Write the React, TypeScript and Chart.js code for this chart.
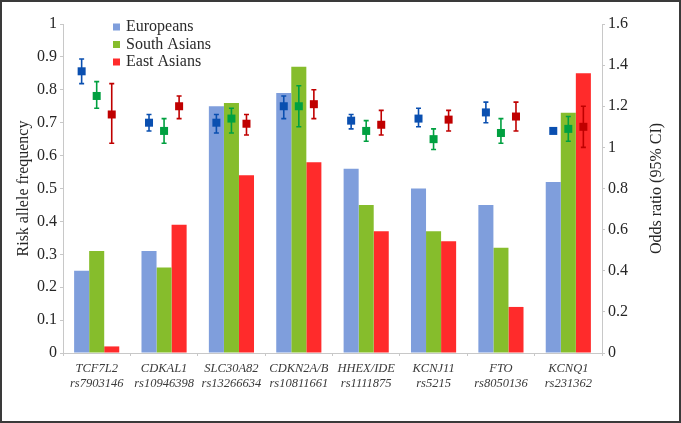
import React, { useEffect, useRef } from "react";
import { Chart, registerables } from "chart.js";

Chart.register(...registerables);

const FONT = "'Liberation Serif', 'Times New Roman', serif";

// Categories (gene / SNP)
const genes = ["TCF7L2", "CDKAL1", "SLC30A82", "CDKN2A/B", "HHEX/IDE", "KCNJ11", "FTO", "KCNQ1"];
const snps = ["rs7903146", "rs10946398", "rs13266634", "rs10811661", "rs1111875", "rs5215", "rs8050136", "rs231362"];

const seriesNames = ["Europeans", "South Asians", "East Asians"];
const leftTitle = "Risk allele frequency";
const rightTitle = "Odds ratio (95% CI)";

// Risk allele frequency (left axis)
const europeansFreq = [0.25, 0.31, 0.75, 0.79, 0.56, 0.5, 0.45, 0.52];
const southAsiansFreq = [0.31, 0.26, 0.76, 0.87, 0.45, 0.37, 0.32, 0.73];
const eastAsiansFreq = [0.02, 0.39, 0.54, 0.58, 0.37, 0.34, 0.14, 0.85];

// Odds ratios with 95% CI (right axis)
const europeansOR = [1.37, 1.12, 1.12, 1.2, 1.13, 1.14, 1.17, 1.08];
const europeansLo = [1.31, 1.08, 1.07, 1.14, 1.09, 1.1, 1.12, 1.07];
const europeansHi = [1.43, 1.16, 1.16, 1.25, 1.16, 1.19, 1.22, 1.09];

const southAsiansOR = [1.25, 1.08, 1.14, 1.2, 1.08, 1.04, 1.07, 1.09];
const southAsiansLo = [1.19, 1.02, 1.07, 1.1, 1.03, 0.99, 1.02, 1.03];
const southAsiansHi = [1.32, 1.14, 1.19, 1.3, 1.13, 1.09, 1.14, 1.15];

const eastAsiansOR = [1.16, 1.2, 1.115, 1.21, 1.11, 1.135, 1.15, 1.1];
const eastAsiansLo = [1.02, 1.14, 1.06, 1.14, 1.06, 1.08, 1.08, 1.0];
const eastAsiansHi = [1.31, 1.25, 1.16, 1.28, 1.18, 1.18, 1.22, 1.2];

const barColors = ["#7f9edc", "#86bd2c", "#ff2b2b"];
const pointColors = ["#0a4fb0", "#00a040", "#c00000"];

const fmt = (v: any) => `${+Number(v).toFixed(1)}`;

const errorBarPlugin = {
  id: "errorBars",
  afterDatasetsDraw(chart: any) {
    const ctx = chart.ctx;
    const y1 = chart.scales.y1;
    const groups = [
      [europeansOR, europeansLo, europeansHi],
      [southAsiansOR, southAsiansLo, southAsiansHi],
      [eastAsiansOR, eastAsiansLo, eastAsiansHi],
    ];
    groups.forEach(([mid, lo, hi], i) => {
      const meta = chart.getDatasetMeta(i);
      ctx.save();
      ctx.strokeStyle = pointColors[i];
      ctx.fillStyle = pointColors[i];
      ctx.lineWidth = 1.6;
      mid.forEach((v: number, j: number) => {
        const x = meta.data[j].x;
        const yTop = y1.getPixelForValue(hi[j]);
        const yBot = y1.getPixelForValue(lo[j]);
        const yMid = y1.getPixelForValue(v);
        ctx.beginPath();
        ctx.moveTo(x, yTop);
        ctx.lineTo(x, yBot);
        ctx.moveTo(x - 2.5, yTop);
        ctx.lineTo(x + 2.5, yTop);
        ctx.moveTo(x - 2.5, yBot);
        ctx.lineTo(x + 2.5, yBot);
        ctx.stroke();
        ctx.fillRect(x - 4, yMid - 4, 8, 8);
      });
      ctx.restore();
    });
  },
};

const legendPlugin = {
  id: "insideLegend",
  afterDraw(chart: any) {
    const { ctx, chartArea } = chart;
    ctx.save();
    ctx.font = `16px ${FONT}`;
    ctx.textBaseline = "middle";
    ctx.textAlign = "left";
    seriesNames.forEach((name, i) => {
      const cy = chartArea.top + 3 + i * 17.5;
      ctx.fillStyle = barColors[i];
      ctx.fillRect(chartArea.left + 50, cy - 3.5, 7, 7);
      ctx.fillStyle = "#2a2a2a";
      ctx.fillText(name, chartArea.left + 63, cy);
    });
    // right axis title, reading bottom-to-top
    const y1 = chart.scales.y1;
    ctx.translate(y1.right - 24, (chartArea.top + chartArea.bottom) / 2);
    ctx.rotate(-Math.PI / 2);
    ctx.textAlign = "center";
    ctx.fillStyle = "#262626";
    ctx.fillText(rightTitle, 0, 0);
    ctx.restore();
  },
};

export default function App() {
  const ref = useRef<HTMLCanvasElement | null>(null);

  useEffect(() => {
    document.body.style.margin = "0";
    if (!ref.current) return;
    const labels = genes.map((g, i) => [g, snps[i]]);
    const chart = new Chart(ref.current, {
      type: "bar",
      data: {
        labels,
        datasets: [
          { label: seriesNames[0], data: europeansFreq, backgroundColor: barColors[0], yAxisID: "y" },
          { label: seriesNames[1], data: southAsiansFreq, backgroundColor: barColors[1], yAxisID: "y" },
          { label: seriesNames[2], data: eastAsiansFreq, backgroundColor: barColors[2], yAxisID: "y" },
        ],
      },
      options: {
        responsive: false,
        animation: false,
        categoryPercentage: 0.67,
        barPercentage: 1,
        layout: { padding: { top: 24, left: 0, right: 0, bottom: 0 } },
        plugins: { legend: { display: false }, tooltip: { enabled: false } },
        scales: {
          x: {
            grid: { display: true, drawOnChartArea: false, drawTicks: true, tickLength: 3, color: "#c8c8c8" },
            border: { display: true, color: "#c8c8c8" },
            ticks: {
              color: "#3a3a3a",
              padding: 6,
              maxRotation: 0,
              autoSkip: false,
              font: { family: FONT, size: 12.5, style: "italic", lineHeight: 1.15 },
            },
            afterFit: (s: any) => {
              s.height = 70;
            },
          },
          y: {
            position: "left",
            min: 0,
            max: 1,
            ticks: { stepSize: 0.1, color: "#262626", padding: 3, font: { family: FONT, size: 16 }, callback: fmt },
            grid: { display: true, drawOnChartArea: false, drawTicks: true, tickLength: 3, color: "#c8c8c8" },
            border: { display: true, color: "#c8c8c8" },
            title: {
              display: true,
              text: leftTitle,
              color: "#262626",
              font: { family: FONT, size: 16 },
              padding: { top: 14, bottom: 0 },
            },
            afterFit: (s: any) => {
              s.width = 63;
            },
          },
          y1: {
            position: "right",
            min: 0,
            max: 1.6,
            ticks: { stepSize: 0.2, color: "#262626", padding: 3, font: { family: FONT, size: 16 }, callback: fmt },
            grid: { display: true, drawOnChartArea: false, drawTicks: true, tickLength: 3, color: "#c8c8c8" },
            border: { display: true, color: "#c8c8c8" },
            afterFit: (s: any) => {
              s.width = 79;
            },
          },
        },
      } as any,
      plugins: [errorBarPlugin, legendPlugin],
    });
    return () => chart.destroy();
  }, []);

  return (
    <div style={{ position: "fixed", left: 0, top: 0, width: 681, height: 423, background: "#fff" }}>
      <canvas ref={ref} width={681} height={423} style={{ display: "block" }} />
      <div
        style={{
          position: "absolute",
          left: 0,
          top: 0,
          width: 681,
          height: 423,
          boxSizing: "border-box",
          border: "2px solid #3a3a3a",
          pointerEvents: "none",
        }}
      />
    </div>
  );
}
